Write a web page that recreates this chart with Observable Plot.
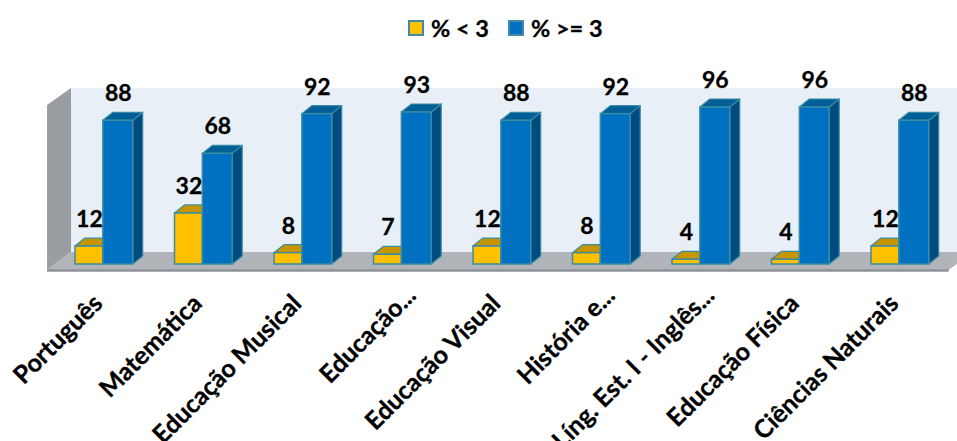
<!DOCTYPE html>
<html><head><meta charset="utf-8">
<script src="https://cdn.jsdelivr.net/npm/d3@7"></script>
<script src="https://cdn.jsdelivr.net/npm/@observablehq/plot@0.6"></script>
<style>
html,body{margin:0;padding:0;background:#fff;overflow:hidden;width:957px;height:441px}
#legend{height:50px;position:relative;font:700 23.5px Lato,sans-serif;color:#000;-webkit-text-stroke:.3px #000}
.sw{position:absolute;top:20px;width:12px;height:12px;border:2px solid #3f8aa6}
.lb{position:absolute;top:14px;line-height:28px;white-space:pre}
svg{display:block;overflow:hidden}
svg text{stroke:#000;stroke-width:.3px}
</style></head><body>
<div id="legend"></div>
<div id="chart"></div>
<script>
const categories = ["Português","Matemática","Educação Musical","Educação...","Educação Visual","História e...","Líng. Est. I - Inglês...","Educação Física","Ciências Naturais"];
const below3 = [12,32,8,7,12,8,4,4,12];
const atLeast3 = [88,68,92,93,88,92,96,96,88];
const seriesNames = ["% < 3","% >= 3"];
const colors = {front:["#ffc000","#0070c0"],top:["#c79500","#005f96"],side:["#a67c00","#004b7f"]};
const strokeColor = "#3a8ba3";

const width = 957, height = 391, marginBottom = 175.1;
const pxX = 99.5, pxY = 1.655;             // size of one category / one percent unit
const x0 = -75 / pxX;
const barEdges = [[0,0.28],[0.28,0.58]];
const barBase = 1.15;
const depthX = 10 / pxX, depthY = 8 / pxY;
const floor = {xL:-0.281,xR:8.78,dx:0.241,front:-2.5,back:8.4};
const wallTop = 107.5, wallFrontTop = 97.2;

const bars = [];
categories.forEach((c,i)=>{
  [below3[i],atLeast3[i]].forEach((v,s)=>bars.push({i,s,v,x1:i+barEdges[s][0],x2:i+barEdges[s][1],id:i+"-"+s}));
});
const topFace = bars.flatMap(b=>[
  {id:b.id,s:b.s,x:b.x1,y1:b.v,y2:b.v},
  {id:b.id,s:b.s,x:b.x1+depthX,y1:b.v,y2:b.v+depthY},
  {id:b.id,s:b.s,x:b.x2,y1:b.v,y2:b.v+depthY},
  {id:b.id,s:b.s,x:b.x2+depthX,y1:b.v+depthY,y2:b.v+depthY}]);
const sideFace = bars.flatMap(b=>[
  {id:b.id,s:b.s,x:b.x2,y1:barBase,y2:b.v},
  {id:b.id,s:b.s,x:b.x2+depthX,y1:barBase+depthY,y2:b.v+depthY}]);
const floorPts = [
  {x:floor.xL,y1:floor.front,y2:floor.front},
  {x:floor.xL+floor.dx,y1:floor.front,y2:floor.back},
  {x:floor.xR,y1:floor.front,y2:floor.back},
  {x:floor.xR+floor.dx,y1:floor.back,y2:floor.back}];
const wallPts = [
  {x:floor.xL,y1:floor.front,y2:wallFrontTop},
  {x:floor.xL+floor.dx,y1:floor.back,y2:wallTop}];

const barMarks = s=>{
  const b = bars.filter(d=>d.s===s), t = topFace.filter(d=>d.s===s), f = sideFace.filter(d=>d.s===s);
  const style = {z:"id",stroke:strokeColor,strokeWidth:1.2};
  return [
    Plot.areaY(f,{x:"x",y1:"y1",y2:"y2",fill:colors.side[s],...style}),
    Plot.areaY(t,{x:"x",y1:"y1",y2:"y2",fill:colors.top[s],...style}),
    Plot.rect(b,{x1:"x1",x2:"x2",y1:barBase,y2:"v",fill:colors.front[s],stroke:strokeColor,strokeWidth:1.5})
  ];
};

const isShort = c=>c.endsWith("...");
const labelAxis = (keep,dx,tickPadding)=>Plot.axisX({
  ticks:categories.map((c,i)=>[c,i+0.29]).filter(([c])=>keep(c)).map(d=>d[1]),
  tickFormat:d=>categories[Math.round(d-0.29)],
  tickSize:0,tickPadding,tickRotate:-45,textAnchor:"end",dx,
  fontSize:25,fontWeight:700,fontFamily:"Lato",fill:"#000",label:null
});

const plot = Plot.plot({
  width,height,marginLeft:0,marginRight:0,marginTop:0,marginBottom,
  style:{background:"transparent",overflow:"hidden"},
  x:{type:"linear",domain:[x0,x0+width/pxX],range:[0,width],axis:null},
  y:{type:"linear",domain:[0,(height-marginBottom)/pxY],range:[height-marginBottom,0],axis:null},
  marks:[
    Plot.rect([0],{x1:floor.xL+floor.dx,x2:floor.xR+floor.dx,y1:floor.back,y2:wallTop,fill:"#e8eff6"}),
    Plot.areaY(wallPts,{x:"x",y1:"y1",y2:"y2",fill:"#999da2"}),
    Plot.areaY(floorPts,{x:"x",y1:"y1",y2:"y2",fill:"#b1b5b9"}),
    Plot.ruleY([floor.front],{x1:floor.xL,x2:floor.xR,stroke:"#8e9297",strokeWidth:2.5}),
    ...barMarks(0),
    ...barMarks(1),
    Plot.text(bars,{x:d=>(d.x1+d.x2)/2,y:"v",text:d=>String(d.v),dy:-27,fontSize:23,fontWeight:700,fontFamily:"Lato",fill:"#000"}),
    labelAxis(c=>!isShort(c),-6,33),
    labelAxis(isShort,9,25)
  ]
});
document.getElementById("chart").append(plot);

const lg = document.getElementById("legend");
[[408,431],[508,531]].forEach(([sx,tx],s)=>{
  const sw=document.createElement("div");sw.className="sw";sw.style.left=sx+"px";sw.style.background=colors.front[s];lg.append(sw);
  const lb=document.createElement("div");lb.className="lb";lb.style.left=tx+"px";lb.textContent=seriesNames[s];lg.append(lb);
});
</script></body></html>
